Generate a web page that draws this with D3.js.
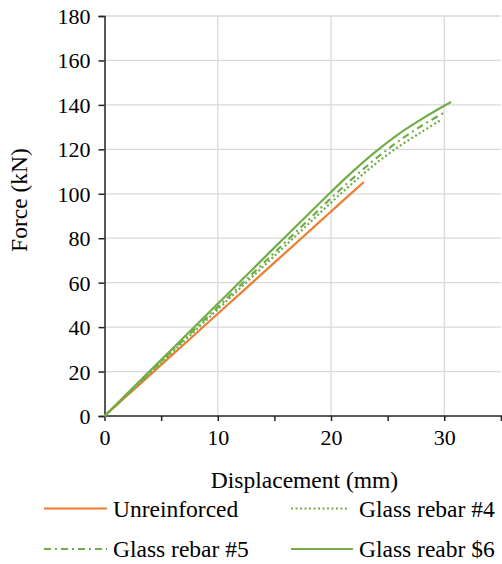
<!DOCTYPE html>
<html>
<head>
<meta charset="utf-8">
<script src="https://cdn.jsdelivr.net/npm/d3@7"></script>
<style>
  body { margin: 0; background: #fff; }
</style>
</head>
<body>
<div id="chart"></div>
<script>
// data (displacement in mm, force in kN)
var unreinforcedX = [0, 2, 4, 6, 8, 10, 12, 14, 16, 18, 20, 22, 22.9];
var unreinforcedY = [0, 9.2, 18.4, 27.6, 36.8, 46, 55.2, 64.4, 73.6, 82.8, 92, 101.2, 105.3];

var rebar4X = [0, 2, 4, 6, 8, 10, 12, 14, 16, 18, 20, 22, 24, 26, 28, 29.6];
var rebar4Y = [0, 9.6, 19.2, 28.8, 38.4, 48, 57.6, 67.2, 76.8, 86.4, 96, 105.2, 113.8, 121.3, 127.8, 132.9];

var rebar5X = [0, 2, 4, 6, 8, 10, 12, 14, 16, 18, 20, 22, 24, 26, 28, 30, 30.2];
var rebar5Y = [0, 9.8, 19.6, 29.4, 39.2, 49, 58.8, 68.6, 78.4, 88.2, 98, 107.3, 116, 123.8, 130.6, 136.6, 137.2];

var rebar6X = [0, 2, 4, 6, 8, 10, 12, 14, 16, 18, 20, 22, 24, 26, 28, 30, 30.6];
var rebar6Y = [0, 10.1, 20.2, 30.3, 40.4, 50.5, 60.6, 70.7, 80.8, 90.8, 100.8, 110.4, 119.2, 127, 133.6, 139.6, 141.3];

var xTicks = [0, 5, 10, 15, 20, 25, 30, 35];
var xLabels = [0, 10, 20, 30];
var yTicks = [0, 20, 40, 60, 80, 100, 120, 140, 160, 180];

var series = [
  { name: "Unreinforced", xs: unreinforcedX, ys: unreinforcedY, color: "#ED7D31", dash: null },
  { name: "Glass rebar #4", xs: rebar4X, ys: rebar4Y, color: "#70AD47", dash: "2,2.5" },
  { name: "Glass rebar #5", xs: rebar5X, ys: rebar5Y, color: "#70AD47", dash: "7,4,2,4" },
  { name: "Glass reabr $6", xs: rebar6X, ys: rebar6Y, color: "#70AD47", dash: null }
];

var W = 502, H = 564;
var FONT = "'Liberation Serif', 'Times New Roman', 'DejaVu Serif', serif";

var svg = d3.select("#chart")
  .append("svg")
    .attr("width", W)
    .attr("height", H)
    .attr("font-family", FONT)
    .attr("font-size", 23.5);

var x = d3.scaleLinear().domain([0, 35]).range([104.5, 500.9]);
var y = d3.scaleLinear().domain([0, 180]).range([416, 16]);

// gridlines
svg.append("g")
  .selectAll("line")
  .data(yTicks.slice(1))
  .enter().append("line")
    .attr("x1", x(0)).attr("x2", x(35))
    .attr("y1", d => y(d)).attr("y2", d => y(d))
    .attr("stroke", "#d9d9d9")
    .attr("stroke-width", 1.3);

svg.append("g")
  .selectAll("line")
  .data([10, 20, 30])
  .enter().append("line")
    .attr("x1", d => x(d)).attr("x2", d => x(d))
    .attr("y1", y(0)).attr("y2", y(180))
    .attr("stroke", "#d9d9d9")
    .attr("stroke-width", 1.3);

// X axis
var xAxis = svg.append("g")
  .attr("transform", "translate(0," + y(0) + ")")
  .call(d3.axisBottom(x).tickValues(xTicks).tickSize(5).tickFormat(d => xLabels.indexOf(d) >= 0 ? d : ""));

// Y axis
var yAxis = svg.append("g")
  .attr("transform", "translate(" + x(0) + ",0)")
  .call(d3.axisLeft(y).tickValues(yTicks).tickSize(6));

[xAxis, yAxis].forEach(a => {
  a.attr("font-family", FONT).attr("font-size", 22);
  a.select(".domain").attr("stroke", "#222").attr("stroke-width", 1.5);
  a.selectAll(".tick line").attr("stroke", "#222").attr("stroke-width", 1.5);
  a.selectAll("text").attr("fill", "#000");
});
xAxis.selectAll("text").attr("dy", "0.85em").attr("y", 10);
yAxis.selectAll("text").attr("x", -14).attr("dy", "0.34em");
xAxis.select(".domain").attr("d", "M" + x(0) + ",0H" + W);

// lines
var line = d3.line()
  .x(d => x(d[0]))
  .y(d => y(d[1]))
  .curve(d3.curveCatmullRom);

series.forEach(s => {
  svg.append("path")
    .datum(d3.zip(s.xs, s.ys))
    .attr("fill", "none")
    .attr("stroke", s.color)
    .attr("stroke-width", 2.2)
    .attr("stroke-dasharray", s.dash)
    .attr("d", line);
});

// axis titles
svg.append("text")
  .attr("x", 304.5)
  .attr("y", 488)
  .attr("text-anchor", "middle")
  .text("Displacement (mm)");

svg.append("text")
  .attr("transform", "translate(27,200) rotate(-90)")
  .attr("text-anchor", "middle")
  .text("Force (kN)");

// legend
var legendPos = [
  { x1: 44, x2: 107, tx: 113, y: 508.5 },
  { x1: 291, x2: 349, tx: 359, y: 508.5 },
  { x1: 44, x2: 107, tx: 113, y: 549 },
  { x1: 291, x2: 353, tx: 359, y: 549 }
];

var legend = svg.append("g");
series.forEach((s, i) => {
  var p = legendPos[i];
  legend.append("line")
    .attr("x1", p.x1).attr("x2", p.x2)
    .attr("y1", p.y).attr("y2", p.y)
    .attr("stroke", s.color)
    .attr("stroke-width", 2.2)
    .attr("stroke-dasharray", s.dash);
  legend.append("text")
    .attr("x", p.tx)
    .attr("y", p.y + 8)
    .text(s.name);
});
</script>
</body>
</html>
